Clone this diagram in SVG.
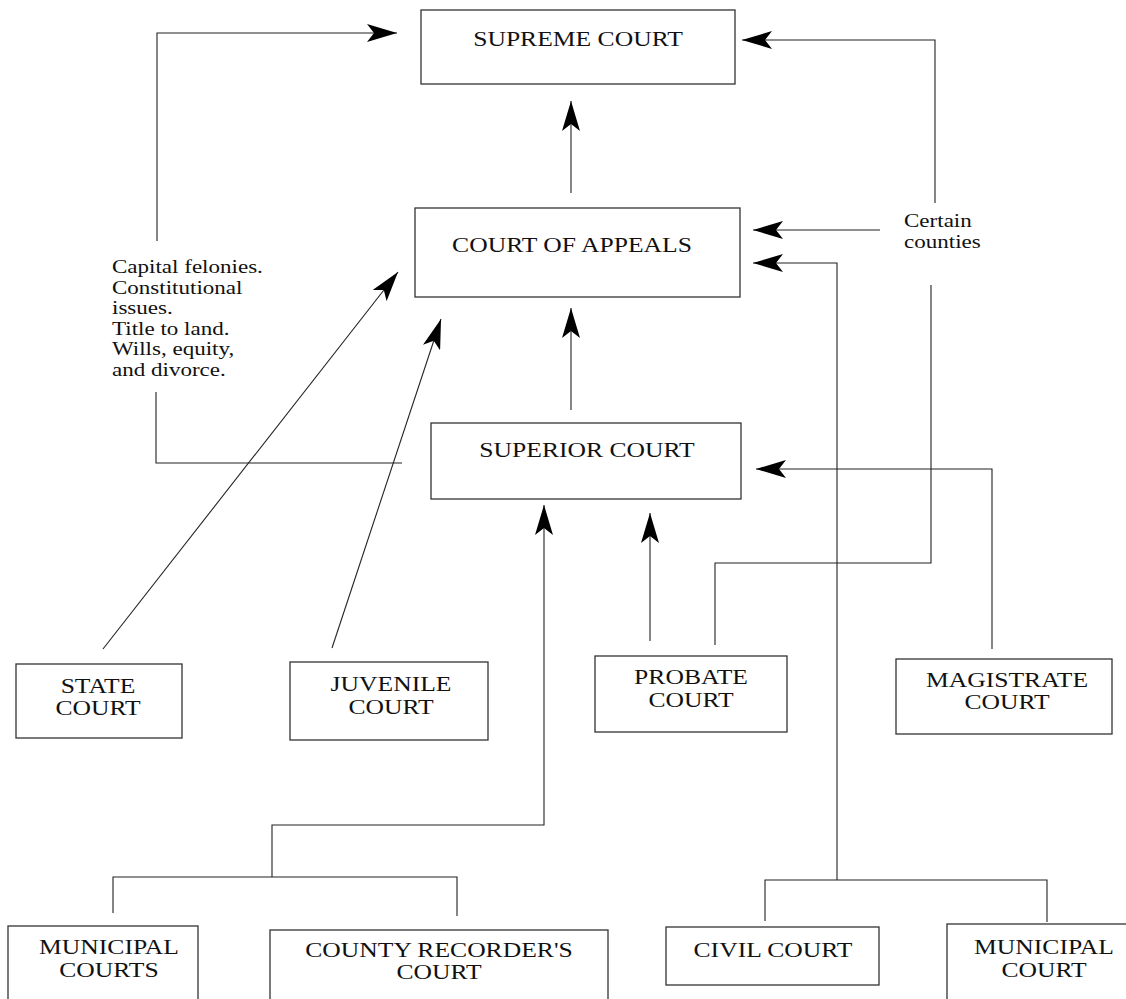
<svg xmlns="http://www.w3.org/2000/svg" width="1126" height="999" viewBox="0 0 1126 999">
<style>
.box{fill:#fff;stroke:#333;stroke-width:1.3}
.ln{fill:none;stroke:#222;stroke-width:1.1}
.lbl{font-family:"Liberation Serif","Times New Roman",serif;font-size:20px;fill:#111;text-anchor:middle}
.note{font-family:"Liberation Serif","Times New Roman",serif;font-size:18px;fill:#111}
</style>
<defs>
<marker id="ah" markerUnits="userSpaceOnUse" viewBox="0 0 30 18" markerWidth="30" markerHeight="18" refX="30" refY="9" orient="auto">
<path d="M0,0 L30,9 L0,18 L7,9 Z" fill="#000"/>
</marker>
</defs>
<rect width="1126" height="999" fill="#fff"/>
<g id="connectors">
<polyline class="ln" points="157,241 157,33 397,33" marker-end="url(#ah)"/>
<polyline class="ln" points="935,203 935,40 742,40" marker-end="url(#ah)"/>
<line class="ln" x1="571" y1="193" x2="571" y2="101" marker-end="url(#ah)"/>
<line class="ln" x1="880" y1="230" x2="753" y2="230" marker-end="url(#ah)"/>
<polyline class="ln" points="837,880 837,263 753,263" marker-end="url(#ah)"/>
<polyline class="ln" points="931,285 931,563 715,563 715,645"/>
<line class="ln" x1="103" y1="649" x2="398" y2="272" marker-end="url(#ah)"/>
<line class="ln" x1="332" y1="648" x2="441" y2="319" marker-end="url(#ah)"/>
<line class="ln" x1="571" y1="410" x2="571" y2="308" marker-end="url(#ah)"/>
<polyline class="ln" points="156,392 156,463 402,463"/>
<polyline class="ln" points="992,649 992,469 756,469" marker-end="url(#ah)"/>
<line class="ln" x1="650" y1="641" x2="650" y2="513" marker-end="url(#ah)"/>
<polyline class="ln" points="113,913 113,877 457,877 457,916"/>
<polyline class="ln" points="272,877 272,825 544,825 544,505" marker-end="url(#ah)"/>
<polyline class="ln" points="765,921 765,880 1047,880 1047,922"/>
</g>
<g id="supreme"><rect class="box" x="421" y="10" width="314" height="74"/><text class="lbl" transform="translate(578,46) scale(1.28,1)">SUPREME COURT</text></g>
<g id="appeals"><rect class="box" x="415" y="208" width="325" height="89"/><text class="lbl" transform="translate(572,252) scale(1.28,1)">COURT OF APPEALS</text></g>
<g id="superior"><rect class="box" x="431" y="423" width="310" height="76"/><text class="lbl" transform="translate(587,457) scale(1.28,1)">SUPERIOR COURT</text></g>
<g id="state"><rect class="box" x="16" y="664" width="166" height="74"/><text class="lbl" transform="translate(98,693) scale(1.28,1)">STATE</text><text class="lbl" transform="translate(98,715) scale(1.28,1)">COURT</text></g>
<g id="juvenile"><rect class="box" x="290" y="662" width="198" height="78"/><text class="lbl" transform="translate(391,691) scale(1.28,1)">JUVENILE</text><text class="lbl" transform="translate(391,714) scale(1.28,1)">COURT</text></g>
<g id="probate"><rect class="box" x="595" y="656" width="192" height="76"/><text class="lbl" transform="translate(691,684) scale(1.28,1)">PROBATE</text><text class="lbl" transform="translate(691,707) scale(1.28,1)">COURT</text></g>
<g id="magistrate"><rect class="box" x="896" y="659" width="216" height="75"/><text class="lbl" transform="translate(1007,687) scale(1.28,1)">MAGISTRATE</text><text class="lbl" transform="translate(1007,709) scale(1.28,1)">COURT</text></g>
<g id="municipal-courts"><rect class="box" x="8" y="926" width="190" height="90"/><text class="lbl" transform="translate(109,954) scale(1.28,1)">MUNICIPAL</text><text class="lbl" transform="translate(109,977) scale(1.28,1)">COURTS</text></g>
<g id="county-recorders"><rect class="box" x="270" y="930" width="338" height="90"/><text class="lbl" transform="translate(439,957) scale(1.28,1)">COUNTY RECORDER'S</text><text class="lbl" transform="translate(439,979) scale(1.28,1)">COURT</text></g>
<g id="civil"><rect class="box" x="666" y="927" width="213" height="58"/><text class="lbl" transform="translate(773,957) scale(1.28,1)">CIVIL COURT</text></g>
<g id="municipal-court"><rect class="box" x="947" y="924" width="200" height="95"/><text class="lbl" transform="translate(1044,954) scale(1.28,1)">MUNICIPAL</text><text class="lbl" transform="translate(1044,977) scale(1.28,1)">COURT</text></g>
<g id="notes">
<text class="note" transform="translate(112,273) scale(1.28,1)">Capital felonies.</text>
<text class="note" transform="translate(112,293.6) scale(1.28,1)">Constitutional</text>
<text class="note" transform="translate(112,314.2) scale(1.28,1)">issues.</text>
<text class="note" transform="translate(112,334.8) scale(1.28,1)">Title to land.</text>
<text class="note" transform="translate(112,355.4) scale(1.28,1)">Wills, equity,</text>
<text class="note" transform="translate(112,376) scale(1.28,1)">and divorce.</text>
<text class="note" transform="translate(904,227) scale(1.28,1)">Certain</text>
<text class="note" transform="translate(904,248) scale(1.28,1)">counties</text>
</g>
</svg>
